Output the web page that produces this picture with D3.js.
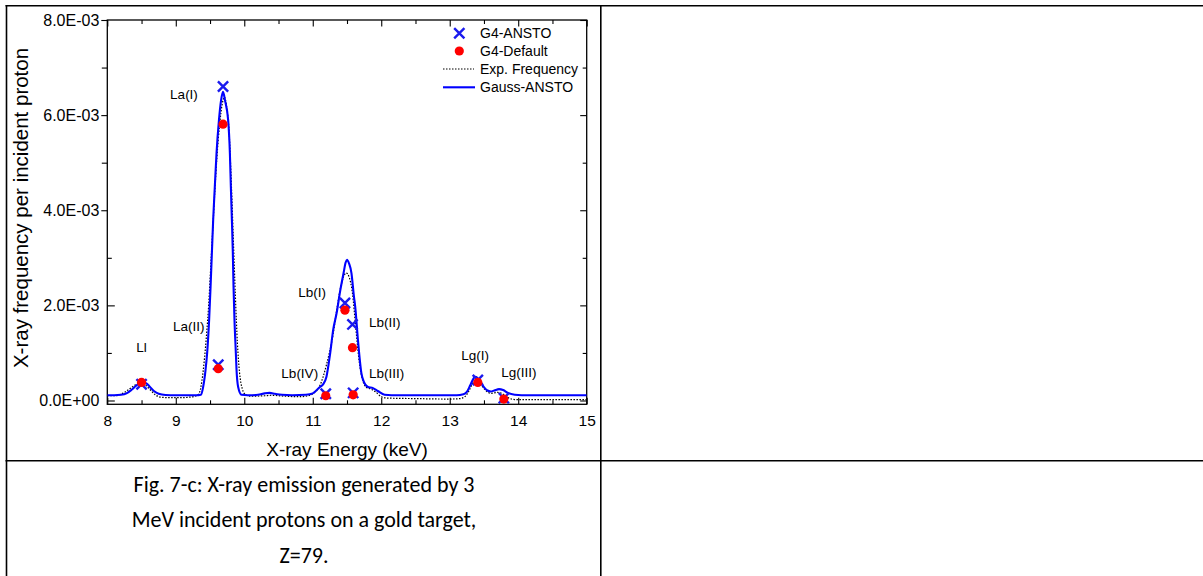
<!DOCTYPE html>
<html>
<head>
<meta charset="utf-8">
<script src="https://cdn.jsdelivr.net/npm/d3@7"></script>
<style>
  html, body { margin: 0; padding: 0; background: #fff; }
  svg { display: block; }
  text { font-family: "Liberation Sans", Arial, sans-serif; fill: #000; }
</style>
</head>
<body>
<svg id="chart" width="1203" height="576"></svg>
<script>
// ---- Data (y values in units of 1E-03 X-rays per incident proton) ----
const xTicks = [8, 9, 10, 11, 12, 13, 14, 15];
const xTickLabels = ["8", "9", "10", "11", "12", "13", "14", "15"];
const xMinorTicks = [8.5, 9.5, 10.5, 11.5, 12.5, 13.5, 14.5];
const yTicks = [0, 2, 4, 6, 8];
const yTickLabels = ["0.0E+00", "2.0E-03", "4.0E-03", "6.0E-03", "8.0E-03"];
const yMinorTicks = [1, 3, 5, 7];

const gaussE = [8.00, 8.10, 8.20, 8.28, 8.35, 8.42, 8.48, 8.52, 8.57, 8.62, 8.68, 8.75, 8.85, 9.00, 9.20, 9.30,
  9.366, 9.40, 9.435, 9.458, 9.487, 9.508, 9.527, 9.546, 9.57, 9.595, 9.63, 9.66, 9.69, 9.72, 9.765, 9.79, 9.804,
  9.819, 9.833, 9.843, 9.857, 9.877, 9.887, 9.91, 9.96, 10.05, 10.20, 10.30, 10.37, 10.45, 10.55, 10.70, 10.90,
  11.00, 11.10, 11.15, 11.20, 11.25, 11.30, 11.35, 11.40, 11.45, 11.48, 11.50, 11.53, 11.565, 11.60, 11.62, 11.66,
  11.71, 11.75, 11.80, 11.88, 11.95, 12.05, 12.15, 13.10, 13.20, 13.25, 13.30, 13.35, 13.38, 13.42, 13.50, 13.55,
  13.60, 13.65, 13.72, 13.78, 13.85, 13.95, 14.05, 15.00];
const gaussV = [0.11, 0.11, 0.12, 0.15, 0.22, 0.31, 0.37, 0.38, 0.36, 0.29, 0.20, 0.14, 0.115, 0.11, 0.11, 0.11,
  0.12, 0.29, 0.65, 1.0, 1.7, 2.4, 3.1, 3.8, 4.5, 5.2, 5.89, 6.3, 6.49, 6.3, 5.89, 5.2, 4.5,
  3.8, 3.1, 2.4, 1.7, 1.0, 0.645, 0.29, 0.12, 0.11, 0.12, 0.15, 0.16, 0.14, 0.12, 0.11, 0.12,
  0.15, 0.28, 0.34, 0.50, 0.95, 1.5, 1.85, 2.3, 2.68, 2.9, 2.96, 2.88, 2.68, 2.2, 1.97, 1.27,
  0.575, 0.38, 0.29, 0.26, 0.20, 0.12, 0.11, 0.11, 0.13, 0.18, 0.32, 0.47, 0.50, 0.45, 0.28, 0.21,
  0.19, 0.21, 0.24, 0.22, 0.16, 0.12, 0.11, 0.11];

const expE = [8.00, 8.10, 8.18, 8.25, 8.32, 8.40, 8.47, 8.52, 8.57, 8.63, 8.70, 8.78, 8.90, 9.10, 9.20, 9.28,
  9.34, 9.38, 9.42, 9.45, 9.48, 9.51, 9.54, 9.57, 9.60, 9.64, 9.68, 9.71, 9.74, 9.78, 9.81, 9.84, 9.87, 9.90,
  9.93, 9.97, 10.02, 10.10, 10.30, 10.40, 10.60, 10.80, 10.90, 11.00, 11.10, 11.20, 11.30, 11.35, 11.40, 11.45,
  11.49, 11.53, 11.58, 11.63, 11.68, 11.73, 11.78, 11.85, 11.92, 12.00, 12.10, 12.50, 13.00, 13.15, 13.22, 13.28,
  13.34, 13.38, 13.44, 13.52, 13.60, 13.70, 13.76, 13.85, 13.95, 15.00];
const expV = [0.10, 0.10, 0.12, 0.17, 0.24, 0.32, 0.36, 0.35, 0.31, 0.22, 0.12, 0.07, 0.06, 0.06, 0.07, 0.09,
  0.15, 0.40, 0.90, 1.4, 2.0, 2.8, 3.6, 4.4, 5.1, 5.8, 6.25, 6.38, 6.2, 5.6, 4.6, 3.4, 2.2, 1.2,
  0.6, 0.25, 0.12, 0.09, 0.10, 0.11, 0.09, 0.08, 0.09, 0.14, 0.30, 0.75, 1.42, 1.9, 2.33, 2.6,
  2.68, 2.6, 2.25, 1.5, 0.8, 0.42, 0.28, 0.24, 0.18, 0.08, 0.05, 0.04, 0.03, 0.04, 0.08, 0.20,
  0.38, 0.44, 0.36, 0.22, 0.15, 0.17, 0.15, 0.06, 0.02, 0.02];

const lineNames = ["Ll", "La(II)", "La(I)", "Lb(IV)", "Lb(I)", "Lb(II)", "Lb(III)", "Lg(I)", "Lg(III)"];
const lineE = [8.50, 9.62, 9.69, 11.19, 11.47, 11.58, 11.59, 13.41, 13.79];
const ansto = [0.34, 0.75, 6.60, 0.14, 2.05, 1.60, 0.16, 0.43, 0.05];
const defaultG4 = [0.38, 0.67, 5.81, 0.10, 1.90, 1.11, 0.12, 0.38, 0.03];

const labelText = ["Ll", "La(II)", "La(I)", "Lb(IV)", "Lb(I)", "Lb(II)", "Lb(III)", "Lg(I)", "Lg(III)"];
const labelE = [8.50, 9.19, 9.12, 10.81, 10.99, 12.05, 12.08, 13.37, 14.01];
const labelV = [1.03, 1.47, 6.33, 0.47, 2.18, 1.54, 0.47, 0.85, 0.49];

const legendNames = ["G4-ANSTO", "G4-Default", "Exp. Frequency", "Gauss-ANSTO"];

const captionLines = ["Fig. 7-c: X-ray emission generated by 3", "MeV incident protons on a gold target,", "Z=79."];

// ---- Layout ----
const svg = d3.select("#chart");
const L = 107.3, R = 586.7, T = 20, B = 404.3;
const x = d3.scaleLinear().domain([8, 15]).range([L, R]);
const y = d3.scaleLinear().domain([-0.08, 8]).range([B, T]);

// table borders
const bc = "#000";
svg.append("line").attr("x1", 5.5).attr("x2", 1203).attr("y1", 5.8).attr("y2", 5.8).attr("stroke", bc).attr("stroke-width", 1.6);
svg.append("line").attr("x1", 6.5).attr("x2", 6.5).attr("y1", 5).attr("y2", 576).attr("stroke", bc).attr("stroke-width", 1.6);
svg.append("line").attr("x1", 600.8).attr("x2", 600.8).attr("y1", 5).attr("y2", 576).attr("stroke", bc).attr("stroke-width", 1.6);
svg.append("line").attr("x1", 5.5).attr("x2", 1203).attr("y1", 460.8).attr("y2", 460.8).attr("stroke", bc).attr("stroke-width", 1.6);

// ---- Axes ----
function styleAxis(size) {
  return g => {
    g.select(".domain").remove();
    g.selectAll(".tick line").attr("stroke", "#000").attr("stroke-width", 1.1);
    g.selectAll("text").style("font-size", size + "px").attr("fill", "#000");
  };
}
// bottom
svg.append("g").attr("transform", `translate(0,${B})`)
  .call(d3.axisBottom(x).tickValues(xTicks).tickSize(-6.5).tickPadding(11).tickFormat((d, i) => xTickLabels[i]))
  .call(styleAxis(15.5));
svg.append("g").attr("transform", `translate(0,${B})`)
  .call(d3.axisBottom(x).tickValues(xMinorTicks).tickSize(-4).tickFormat(""))
  .call(styleAxis(15.5));
// top
svg.append("g").attr("transform", `translate(0,${T})`)
  .call(d3.axisTop(x).tickValues(xTicks).tickSize(-6.5).tickFormat(""))
  .call(styleAxis(15.5));
svg.append("g").attr("transform", `translate(0,${T})`)
  .call(d3.axisTop(x).tickValues(xMinorTicks).tickSize(-4).tickFormat(""))
  .call(styleAxis(15.5));
// right
svg.append("g").attr("transform", `translate(${R},0)`)
  .call(d3.axisRight(y).tickValues(yTicks).tickSize(-6.5).tickFormat(""))
  .call(styleAxis(16));
svg.append("g").attr("transform", `translate(${R},0)`)
  .call(d3.axisRight(y).tickValues(yMinorTicks).tickSize(-4).tickFormat(""))
  .call(styleAxis(16));
// left : labels
svg.append("g").attr("transform", `translate(${L},0)`)
  .call(d3.axisLeft(y).tickValues(yTicks).tickSize(0).tickPadding(8).tickFormat((d, i) => yTickLabels[i]))
  .call(styleAxis(16));
// left : ticks (upper ones point outward, lower ones inward, as in the original)
svg.append("g").attr("transform", `translate(${L},0)`)
  .call(d3.axisLeft(y).tickValues(yTicks.filter(v => v >= 4)).tickSize(6).tickFormat(""))
  .call(styleAxis(16));
svg.append("g").attr("transform", `translate(${L},0)`)
  .call(d3.axisLeft(y).tickValues(yTicks.filter(v => v < 4)).tickSize(-7.5).tickFormat(""))
  .call(styleAxis(16));
svg.append("g").attr("transform", `translate(${L},0)`)
  .call(d3.axisLeft(y).tickValues(yMinorTicks.filter(v => v >= 4)).tickSize(5.5).tickFormat(""))
  .call(styleAxis(16));
svg.append("g").attr("transform", `translate(${L},0)`)
  .call(d3.axisLeft(y).tickValues(yMinorTicks.filter(v => v < 4)).tickSize(-4.5).tickFormat(""))
  .call(styleAxis(16));

// frame
svg.append("rect").attr("x", L).attr("y", T).attr("width", R - L).attr("height", B - T)
  .attr("fill", "none").attr("stroke", "#000").attr("stroke-width", 1.3);

// axis titles
svg.append("text").attr("x", (L + R) / 2).attr("y", 456).attr("text-anchor", "middle")
  .style("font-size", "19px").text("X-ray Energy (keV)");
svg.append("text").attr("transform", "translate(28,208) rotate(-90)").attr("text-anchor", "middle")
  .style("font-size", "20.5px").text("X-ray frequency per incident proton");

// ---- Curves ----
svg.append("clipPath").attr("id", "plotclip").append("rect")
  .attr("x", L).attr("y", T).attr("width", R - L).attr("height", B - T);
const plot = svg.append("g").attr("clip-path", "url(#plotclip)");

const lineGen = d3.line().x(d => x(d[0])).y(d => y(d[1])).curve(d3.curveMonotoneX);
const expData = expE.map((e, i) => [e, expV[i]]);
const gaussData = gaussE.map((e, i) => [e, gaussV[i]]);

plot.append("path").datum(expData).attr("d", lineGen)
  .attr("fill", "none").attr("stroke", "#000").attr("stroke-width", 1.2).attr("stroke-dasharray", "1.5,1.5");
plot.append("path").datum(gaussData).attr("d", lineGen)
  .attr("fill", "none").attr("stroke", "#0000ff").attr("stroke-width", 2.1);

// ---- Markers ----
const cross = d3.symbol().type(d3.symbolX).size(70);
const blueCol = "#1a1aee", redCol = "#ff0000";
svg.append("g").selectAll("path").data(lineE).join("path")
  .attr("transform", (d, i) => `translate(${x(d)},${y(ansto[i])})`)
  .attr("d", cross).attr("fill", "none").attr("stroke", blueCol).attr("stroke-width", 2.4);
svg.append("g").selectAll("circle").data(lineE).join("circle")
  .attr("cx", d => x(d)).attr("cy", (d, i) => y(defaultG4[i])).attr("r", 4.6).attr("fill", redCol);

// line labels
svg.append("g").selectAll("text").data(labelText).join("text")
  .attr("x", (d, i) => x(labelE[i])).attr("y", (d, i) => y(labelV[i]))
  .attr("text-anchor", "middle").style("font-size", "13.5px").text(d => d);

// ---- Legend ----
const lg = svg.append("g");
const legY = [33.3, 51, 69, 87.3];
lg.append("path").attr("transform", `translate(459.3,${legY[0]})`).attr("d", cross)
  .attr("fill", "none").attr("stroke", blueCol).attr("stroke-width", 2.4);
lg.append("circle").attr("cx", 459.3).attr("cy", legY[1]).attr("r", 4.6).attr("fill", redCol);
lg.append("line").attr("x1", 443).attr("x2", 474).attr("y1", legY[2]).attr("y2", legY[2])
  .attr("stroke", "#000").attr("stroke-width", 1.2).attr("stroke-dasharray", "1.5,1.5");
lg.append("line").attr("x1", 443).attr("x2", 475).attr("y1", legY[3]).attr("y2", legY[3])
  .attr("stroke", "#0000ff").attr("stroke-width", 2.1);
lg.selectAll("text").data(legendNames).join("text")
  .attr("x", 480).attr("y", (d, i) => legY[i] + 4.8).style("font-size", "14px").text(d => d);

// ---- Caption ----
svg.append("g").selectAll("text").data(captionLines).join("text")
  .attr("x", 304).attr("y", (d, i) => 492 + i * 35.3).attr("text-anchor", "middle")
  .style("font-family", "Carlito, Lato, 'Open Sans', sans-serif").style("font-size", "22px").text(d => d);
</script>
</body>
</html>
